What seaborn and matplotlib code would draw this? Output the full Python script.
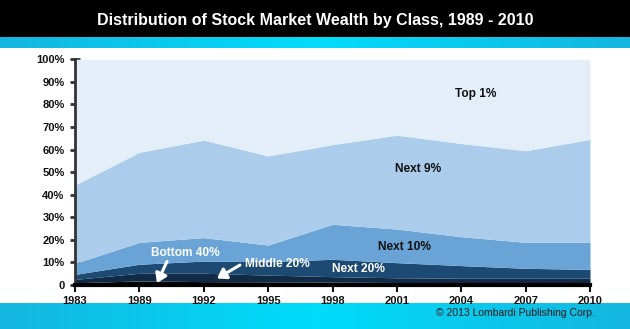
import numpy as np
import matplotlib
matplotlib.use("Agg")
import matplotlib.pyplot as plt
import seaborn as sns
from matplotlib.patches import Rectangle
from matplotlib.colors import LinearSegmentedColormap

# ---- data (percent of stock market wealth) ----
years = ["1983", "1989", "1992", "1995", "1998", "2001", "2004", "2007", "2010"]
bottom40 = [1.0, 1.8, 1.5, 1.4, 1.3, 1.1, 1.0, 0.9, 0.9]
middle20 = [1.5, 3.4, 3.7, 3.0, 2.4, 2.1, 2.0, 2.1, 2.1]
next20 = [2.2, 4.0, 5.4, 5.9, 7.7, 6.7, 5.6, 4.4, 3.9]
next10 = [4.9, 9.7, 10.4, 7.4, 15.5, 14.9, 12.8, 11.5, 12.0]
next9 = [34.7, 39.9, 43.2, 39.5, 35.3, 41.6, 41.3, 40.6, 45.6]
top1 = [55.7, 41.2, 35.8, 42.8, 37.8, 33.6, 37.3, 40.5, 35.5]
series_names = ["Bottom 40%", "Middle 20%", "Next 20%", "Next 10%", "Next 9%", "Top 1%"]
ytick_labels = ["0", "10%", "20%", "30%", "40%", "50%", "60%", "70%", "80%", "90%", "100%"]
title = "Distribution of Stock Market Wealth by Class, 1989 - 2010"
credit = "\u00a9 2013 Lombardi Publishing Corp."

colors = ["#0a0a0a", "#112b47", "#1d4a72", "#6aa4d6", "#abcdeb", "#e3eef8"]

sns.set_theme(style="white")
plt.rcParams["font.family"] = ["Liberation Sans", "DejaVu Sans"]

W, H = 630, 329
fig = plt.figure(figsize=(W / 100, H / 100), dpi=100)
fig.patch.set_facecolor("white")

# title band
fig.add_artist(Rectangle((0, 1 - 37 / H), 1, 37 / H, transform=fig.transFigure,
                         color="black", zorder=0))
fig.text(0.5, 1 - 20.5 / H, title, ha="center", va="center", color="white",
         fontsize=11.5, fontweight="bold")

# cyan gradient bands
grad = np.abs(np.linspace(-1, 1, 256))[None, :]
cyan = LinearSegmentedColormap.from_list("cy", ["#00dcfb", "#14b6de"])
for rect in ([0, 1 - 48 / H, 1, 11 / H], [0, 0, 1, 26 / H]):
    cax = fig.add_axes(rect)
    cax.imshow(grad, aspect="auto", cmap=cyan, extent=[0, 1, 0, 1])
    cax.set_axis_off()

fig.text(595 / W, 1 - 313 / H, credit, ha="right", va="center",
         fontsize=7.5, color="#1a1a1a")

# main axes
ax = fig.add_axes([75 / W, 1 - 285 / H, (590 - 75) / W, (285 - 59.3) / H])
x = np.arange(len(years))
ax.stackplot(x, bottom40, middle20, next20, next10, next9, top1,
             colors=colors, labels=series_names, linewidth=0)
ax.set_xlim(0, len(years) - 1)
ax.set_ylim(0, 100)
ax.set_yticks(np.arange(0, 101, 10))
ax.set_yticklabels(ytick_labels, fontsize=8, fontweight="bold", color="#111111")
ax.set_xticks(x)
ax.set_xticklabels(years, fontsize=8, fontweight="bold", color="#111111")
ax.tick_params(axis="y", direction="inout", length=7, width=2, color="#333333", pad=4,
               left=True)
ax.tick_params(axis="x", direction="out", length=5, width=1.5, color="#111111", pad=3,
               bottom=True)
for s in ["top", "right"]:
    ax.spines[s].set_visible(False)
ax.spines["left"].set_color("#333333")
ax.spines["left"].set_linewidth(2)
ax.spines["bottom"].set_color("#000000")
ax.spines["bottom"].set_linewidth(3)
ax.grid(False)

def px2d(px, py):
    return ((px - 75) / (590 - 75) * (len(years) - 1), (285 - py) / 2.257)

fs = 8.6
ax.text(*px2d(476, 94), "Top 1%", ha="center", va="center", fontsize=fs,
        fontweight="bold", color="#111111")
ax.text(*px2d(418, 169), "Next 9%", ha="center", va="center", fontsize=fs,
        fontweight="bold", color="#111111")
ax.text(*px2d(404, 246.7), "Next 10%", ha="center", va="center", fontsize=fs,
        fontweight="bold", color="#111111")
ax.text(*px2d(359, 269), "Next 20%", ha="center", va="center", fontsize=fs,
        fontweight="bold", color="white")
ax.text(*px2d(185, 252.7), "Bottom 40%", ha="center", va="center", fontsize=fs,
        fontweight="bold", color="white")
ax.text(*px2d(277, 264), "Middle 20%", ha="center", va="center", fontsize=fs,
        fontweight="bold", color="white")

arrow = dict(arrowstyle="-|>,head_length=0.45,head_width=0.3", color="white", lw=2.2,
             shrinkA=0, shrinkB=0)
ax.annotate("", xy=px2d(157, 283), xytext=px2d(167, 261.5), arrowprops=arrow)
ax.annotate("", xy=px2d(217, 278.5), xytext=px2d(240, 265), arrowprops=arrow)

fig.savefig("out.png", dpi=100, facecolor=fig.get_facecolor())
